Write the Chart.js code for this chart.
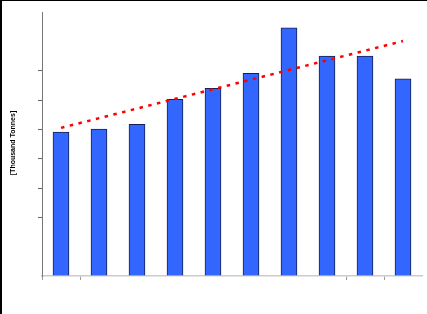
<!DOCTYPE html>
<html>
<head>
<meta charset="utf-8">
<script src="https://cdn.jsdelivr.net/npm/chart.js@4.4.1/dist/chart.umd.min.js"></script>
<style>
  html, body { margin: 0; padding: 0; background: #fff; }
  canvas { display: block; }
</style>
</head>
<body>
<canvas id="chart" width="427" height="314"></canvas>
<script>
// data (units = one y tick)
var categories = ['1', '2', '3', '4', '5', '6', '7', '8', '9', '10'];
var tonnes = [4.91, 5.01, 5.17, 6.02, 6.40, 6.91, 8.46, 7.50, 7.50, 6.72];
var trend = [5.05, null, null, null, null, null, null, null, null, 8.01];
var yLabel = '[Thousand Tonnes]';

var frameAndLabel = {
    id: 'frameAndLabel',
    afterDraw: function (chart) {
        var c = chart.ctx;
        c.save();
        c.fillStyle = '#000';
        c.fillRect(0, 0, 2, 314);
        c.fillRect(0, 0, 427, 1);
        c.translate(13, 143);
        c.rotate(-Math.PI / 2);
        c.font = 'bold 7px "Liberation Sans", Arial, sans-serif';
        c.textAlign = 'center';
        c.textBaseline = 'middle';
        c.fillText(yLabel, 0, 0);
        c.restore();
    }
};

var ctx = document.getElementById('chart');

var data = {
    labels: categories,
    datasets: [
        {
            type: 'line',
            data: trend,
            spanGaps: true,
            borderColor: '#ff0000',
            borderWidth: 2.5,
            borderDash: [3.5, 5.5],
            pointRadius: 0,
            fill: false,
            order: 0
        },
        {
            type: 'bar',
            data: tonnes,
            backgroundColor: '#3366ff',
            borderColor: '#14204d',
            borderWidth: { top: 1, left: 1, right: 1, bottom: 0 },
            barThickness: 16,
            order: 1
        }
    ]
};

var chart = new Chart(ctx, {
    data: data,
    plugins: [frameAndLabel],
    options: {
        responsive: false,
        animation: false,
        layout: { padding: { left: 0, top: 12, right: 5, bottom: 0 } },
        plugins: {
            legend: { display: false },
            tooltip: { enabled: false }
        },
        scales: {
            x: {
                offset: true,
                ticks: { display: false },
                border: { display: true, color: '#cccccc', width: 1.5 },
                grid: {
                    offset: true,
                    drawOnChartArea: false,
                    drawTicks: true,
                    tickLength: 4,
                    color: function (c) {
                        return [0, 1, 8, 9].indexOf(c.index) >= 0 ? '#999999' : 'rgba(0,0,0,0)';
                    }
                },
                afterFit: function (s) { s.height = 38; }
            },
            y: {
                min: 0,
                max: 9,
                ticks: { display: false, stepSize: 1 },
                border: { display: true, color: '#777777', width: 1 },
                grid: {
                    drawOnChartArea: false,
                    drawTicks: true,
                    tickLength: 4,
                    color: function (c) {
                        var v = c.tick ? c.tick.value : -1;
                        return (v >= 2 && v <= 7) ? '#666666' : 'rgba(0,0,0,0)';
                    }
                },
                afterFit: function (s) { s.width = 42; }
            }
        }
    }
});
</script>
</body>
</html>
